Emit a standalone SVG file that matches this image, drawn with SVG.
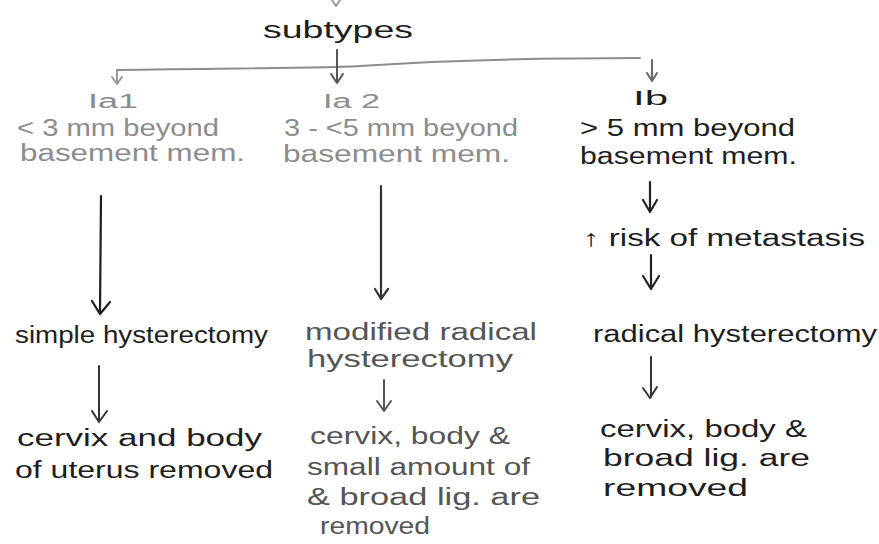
<svg xmlns="http://www.w3.org/2000/svg" width="879" height="544" viewBox="0 0 879 544">
<style>
text{font-family:"Liberation Sans","DejaVu Sans",sans-serif;font-size:23px;}
.s{font-size:20px}
.g{fill:#8c8c8c}
.m{fill:#555}
.k{fill:#1e1e1e}
.c{fill:none;stroke-linecap:round;stroke-linejoin:round}
</style>
<rect width="879" height="544" fill="#fff"/>
<g id="connectors" class="c">
<path d="M332 0 L336 6 L340 0" stroke="#999" stroke-width="2"/>
<path d="M117 70 C250 68 330 68 360 66 C450 60 560 58 640 58" stroke="#8c8c8c" stroke-width="2"/>
<path d="M117 70 L117 83 M112 77 L117 84 L122 77" stroke="#999" stroke-width="2"/>
<path d="M337 50 L337 82 M331 74 L337 83 L343 74" stroke="#555" stroke-width="2"/>
<path d="M652 60 L652 80 M647 73 L652 81 L657 73" stroke="#666" stroke-width="2"/>
<path d="M101 196 L100 313 M92 301 L100 314 L110 302" stroke="#1e1e1e" stroke-width="2.2"/>
<path d="M381 186 L381 298 M375 289 L381 299 L388 289" stroke="#333" stroke-width="2.2"/>
<path d="M650 182 L650 211 M643 200 L650 212 L657 200" stroke="#222" stroke-width="2.2"/>
<path d="M651 255 L651 288 M643 276 L651 289 L659 276" stroke="#222" stroke-width="2.2"/>
<path d="M99 366 L99 420 M92 411 L99 422 L107 411" stroke="#333" stroke-width="2"/>
<path d="M384 380 L384 410 M377 401 L384 411 L391 401" stroke="#555" stroke-width="2"/>
<path d="M651 357 L651 397 M643 388 L650 398 L657 387" stroke="#333" stroke-width="2"/>
</g>
<g id="subtypes"><text x="263" y="38" textLength="150" lengthAdjust="spacingAndGlyphs" class="k">subtypes</text></g>
<g id="ia1">
<text x="88" y="108" textLength="50" lengthAdjust="spacingAndGlyphs" class="g s">Ia1</text>
<text x="17" y="136" textLength="202" lengthAdjust="spacingAndGlyphs" class="g">&lt; 3 mm beyond</text>
<text x="20" y="161" textLength="225" lengthAdjust="spacingAndGlyphs" class="g">basement mem.</text>
</g>
<g id="ia2">
<text x="323" y="108" textLength="57" lengthAdjust="spacingAndGlyphs" class="g s">Ia 2</text>
<text x="284" y="136" textLength="234" lengthAdjust="spacingAndGlyphs" class="g">3 - &lt;5 mm beyond</text>
<text x="283" y="162" textLength="227" lengthAdjust="spacingAndGlyphs" class="g">basement mem.</text>
</g>
<g id="ib">
<text x="633" y="105" textLength="35" lengthAdjust="spacingAndGlyphs" class="k s">Ib</text>
<text x="580" y="136" textLength="215" lengthAdjust="spacingAndGlyphs" class="k">&gt; 5 mm beyond</text>
<text x="580" y="164" textLength="217" lengthAdjust="spacingAndGlyphs" class="k">basement mem.</text>
</g>
<g id="risk"><text x="583" y="246" textLength="282" lengthAdjust="spacingAndGlyphs" class="k">↑ risk of metastasis</text></g>
<g id="simple"><text x="15" y="343" textLength="253" lengthAdjust="spacingAndGlyphs" class="k">simple hysterectomy</text></g>
<g id="modified">
<text x="305" y="340" textLength="232" lengthAdjust="spacingAndGlyphs" class="m">modified radical</text>
<text x="307" y="367" textLength="206" lengthAdjust="spacingAndGlyphs" class="m">hysterectomy</text>
</g>
<g id="radical"><text x="593" y="342" textLength="284" lengthAdjust="spacingAndGlyphs" class="k">radical hysterectomy</text></g>
<g id="removed1">
<text x="17" y="446" textLength="245" lengthAdjust="spacingAndGlyphs" class="k">cervix and body</text>
<text x="15" y="478" textLength="258" lengthAdjust="spacingAndGlyphs" class="k">of uterus removed</text>
</g>
<g id="removed2">
<text x="310" y="444" textLength="200" lengthAdjust="spacingAndGlyphs" class="m">cervix, body &amp;</text>
<text x="307" y="475" textLength="223" lengthAdjust="spacingAndGlyphs" class="m">small amount of</text>
<text x="307" y="505" textLength="233" lengthAdjust="spacingAndGlyphs" class="m">&amp; broad lig. are</text>
<text x="320" y="534" textLength="110" lengthAdjust="spacingAndGlyphs" class="m">removed</text>
</g>
<g id="removed3">
<text x="600" y="437" textLength="207" lengthAdjust="spacingAndGlyphs" class="k">cervix, body &amp;</text>
<text x="603" y="466" textLength="207" lengthAdjust="spacingAndGlyphs" class="k">broad lig. are</text>
<text x="603" y="496" textLength="145" lengthAdjust="spacingAndGlyphs" class="k">removed</text>
</g>
</svg>
